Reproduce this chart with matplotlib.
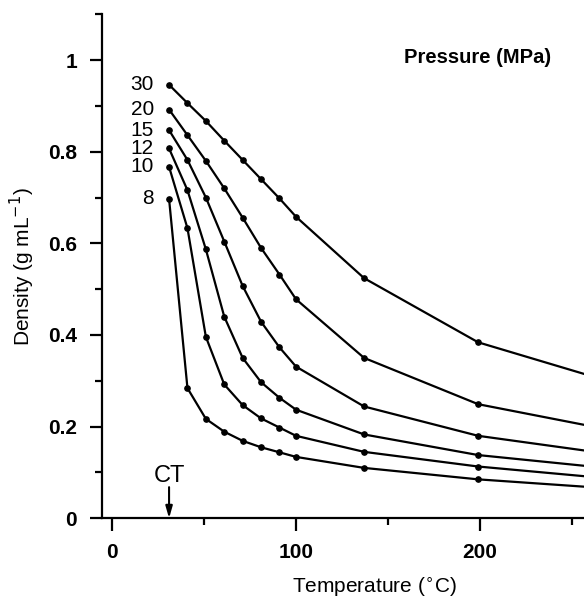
import matplotlib
matplotlib.use('Agg')
import matplotlib.pyplot as plt
from matplotlib.ticker import MultipleLocator, FuncFormatter

plt.rcParams['font.family'] = ['Liberation Sans', 'DejaVu Sans']

# temperatures (deg C); last point lies beyond the right edge
temps = [31, 41, 51, 61, 71, 81, 91, 100, 137, 199, 300]

pressures = ['30', '20', '15', '12', '10', '8']
dens_30 = [0.946, 0.906, 0.867, 0.824, 0.782, 0.740, 0.698, 0.658, 0.524, 0.384, 0.263]
dens_20 = [0.892, 0.836, 0.780, 0.720, 0.656, 0.590, 0.532, 0.478, 0.350, 0.249, 0.170]
dens_15 = [0.847, 0.782, 0.700, 0.604, 0.507, 0.429, 0.373, 0.331, 0.244, 0.180, 0.124]
dens_12 = [0.807, 0.716, 0.587, 0.440, 0.350, 0.297, 0.263, 0.237, 0.183, 0.138, 0.097]
dens_10 = [0.767, 0.633, 0.396, 0.292, 0.247, 0.218, 0.198, 0.180, 0.145, 0.113, 0.076]
dens_8 = [0.697, 0.284, 0.217, 0.189, 0.169, 0.155, 0.144, 0.134, 0.110, 0.085, 0.057]
series = [dens_30, dens_20, dens_15, dens_12, dens_10, dens_8]

ct_temp = 31

fig = plt.figure(figsize=(5.84, 5.99), dpi=100)
ax = fig.add_axes([0.1747, 0.1347, 0.8253, 0.8416])

for p, d in zip(pressures, series):
    ax.plot(temps, d, color='black', lw=1.6, marker='o', markersize=3.8)
    ax.annotate(p, xy=(temps[0], d[0]), xytext=(-11, 0), textcoords='offset points',
                ha='right', va='center', fontsize=15)

ax.set_xlim(-5.43, 256.5)
ax.set_ylim(0, 1.1)

for s in ['top', 'right']:
    ax.spines[s].set_visible(False)
for s in ['left', 'bottom']:
    ax.spines[s].set_linewidth(1.6)

ax.xaxis.set_major_locator(MultipleLocator(100))
ax.xaxis.set_minor_locator(MultipleLocator(50))
ax.yaxis.set_major_locator(MultipleLocator(0.2))
ax.yaxis.set_minor_locator(MultipleLocator(0.1))
ax.yaxis.set_major_formatter(FuncFormatter(lambda v, pos: '%g' % round(v, 2)))

ax.tick_params(axis='both', which='major', length=9, width=1.6, pad=9, labelsize=15)
ax.tick_params(axis='both', which='minor', length=5, width=1.6)
for lab in ax.get_xticklabels() + ax.get_yticklabels():
    lab.set_fontweight('bold')
ax.xaxis.get_major_ticks()[0].tick1line.set_visible(False)

ax.set_xlabel('Temperature ($^{\\circ}$C)', fontsize=15)
ax.xaxis.set_label_coords(0.566, -0.114)
ax.set_ylabel('Density (g mL$^{-1}$)', fontsize=15)
ax.yaxis.set_label_coords(-0.135, 0.5)

ax.text(0.78, 0.915, 'Pressure (MPa)', transform=ax.transAxes, ha='center', va='center',
        fontsize=14.5, fontweight='bold')

ax.annotate('', xy=(ct_temp, 0), xytext=(ct_temp, 0.068),
            arrowprops=dict(arrowstyle='-|>,head_length=0.7,head_width=0.2',
                            color='black', lw=1.5, shrinkA=0, shrinkB=0))
ax.text(ct_temp, 0.092, 'CT', ha='center', va='center', fontsize=17)

fig.savefig('out.png', dpi=100)
